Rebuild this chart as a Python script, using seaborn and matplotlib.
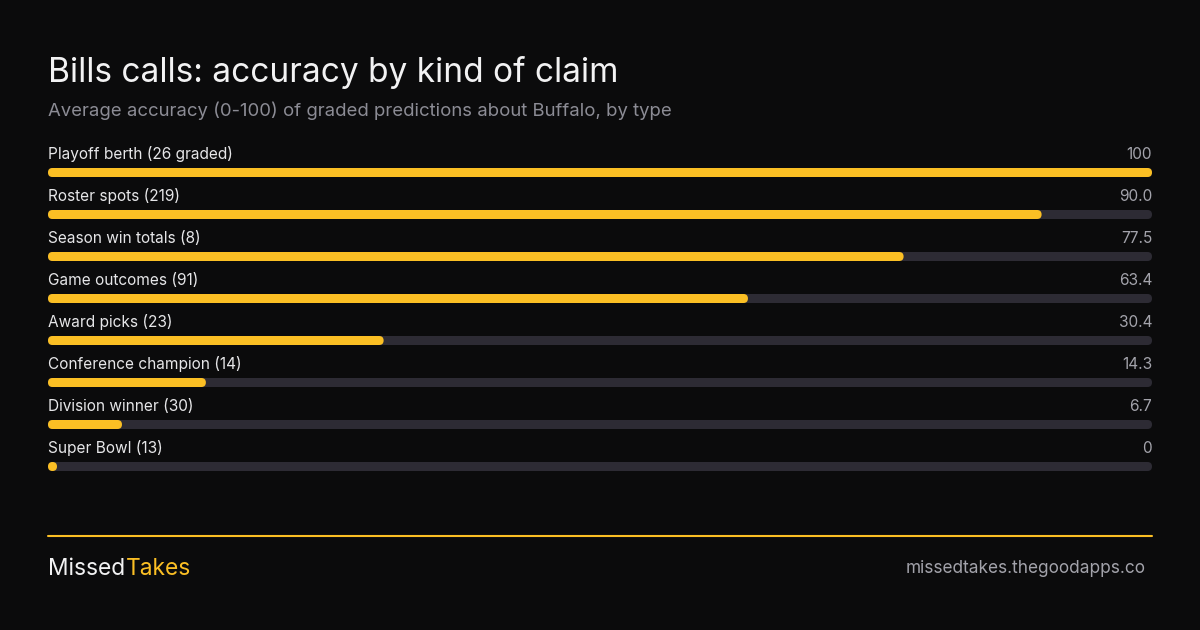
import matplotlib
matplotlib.use("Agg")
import matplotlib.pyplot as plt
from matplotlib.patches import FancyBboxPatch
import seaborn as sns
import pandas as pd

# data
categories = ["Playoff berth (26 graded)", "Roster spots (219)", "Season win totals (8)",
              "Game outcomes (91)", "Award picks (23)", "Conference champion (14)",
              "Division winner (30)", "Super Bowl (13)"]
accuracy = [100, 90.0, 77.5, 63.4, 30.4, 14.3, 6.7, 0]
value_labels = ["100", "90.0", "77.5", "63.4", "30.4", "14.3", "6.7", "0"]

BG = "#0b0b0c"
YELLOW = "#fbbf24"
TRACK = "#2d2b34"

W, H = 1200, 630
sns.set_theme(style="white")
plt.rcParams["font.family"] = ["Inter", "DejaVu Sans"]

fig = plt.figure(figsize=(12, 6.3), dpi=100, facecolor=BG)

def fx(px):
    return px / W

def fy(py):
    return 1 - py / H

# bar area: rows are 42px apart, first bar centred at y=172.5
row_h = 42
top = 172.5 - row_h / 2
n = len(categories)
ax = fig.add_axes([fx(48), fy(top + row_h * n), fx(1104), row_h * n / H])
ax.set_facecolor(BG)

df = pd.DataFrame({"claim": categories, "accuracy": accuracy, "full": [100] * n})
bar_w = 9 / row_h
sns.barplot(data=df, x="full", y="claim", color=TRACK, width=bar_w, ax=ax,
            saturation=1, orient="h")
sns.barplot(data=df, x="accuracy", y="claim", color=YELLOW, width=bar_w, ax=ax,
            saturation=1, orient="h")
ax.set_xlim(0, 100)
ax.set_ylim(n - 0.5, -0.5)

# swap square bars for rounded ones
x_per_px = 100 / 1104
y_per_px = 1 / row_h
r = 4.5 * x_per_px
for p in list(ax.patches):
    x0, y0 = p.get_x(), p.get_y()
    w, h = p.get_width(), p.get_height()
    w = max(w, 2 * r)
    fb = FancyBboxPatch((x0, y0), w, h,
                        boxstyle=f"round,pad=0,rounding_size={r}",
                        mutation_aspect=y_per_px / x_per_px,
                        facecolor=p.get_facecolor(), edgecolor="none",
                        clip_on=False, zorder=p.get_zorder())
    p.remove()
    ax.add_patch(fb)

for i, (lab, val) in enumerate(zip(categories, value_labels)):
    ax.text(0, i - 13.5 / row_h, lab, color="#e6e6e8", fontsize=11.1,
            va="baseline", ha="left", clip_on=False)
    ax.text(100, i - 13.5 / row_h, val, color="#a3a3ab", fontsize=11.1,
            va="baseline", ha="right", clip_on=False)

ax.set_xlabel("")
ax.set_ylabel("")
ax.set_xticks([])
ax.set_yticks([])
for s in ax.spines.values():
    s.set_visible(False)

# titles
fig.text(fx(48), fy(82), "Bills calls: accuracy by kind of claim", color="#f2f2f3",
         fontsize=24.1, va="baseline", ha="left")
fig.text(fx(48), fy(116.5), "Average accuracy (0-100) of graded predictions about Buffalo, by type",
         color="#8c8c95", fontsize=13.35, va="baseline", ha="left")

# footer
fig.add_artist(plt.Line2D([fx(48), fx(1152)], [fy(536), fy(536)], color=YELLOW, lw=1.5))
t1 = fig.text(fx(48), fy(575), "Missed", color="#f2f2f3", fontsize=16.4,
              va="baseline", ha="left")
fig.canvas.draw()
bb = t1.get_window_extent()
fig.text(fx(bb.x1 + 1), fy(575), "Takes", color=YELLOW, fontsize=16.4,
         va="baseline", ha="left")
fig.text(fx(1146), fy(573), "missedtakes.thegoodapps.co", color="#a3a3ab",
         fontsize=12.4, va="baseline", ha="right")

fig.savefig("out.png", dpi=100, facecolor=BG)
